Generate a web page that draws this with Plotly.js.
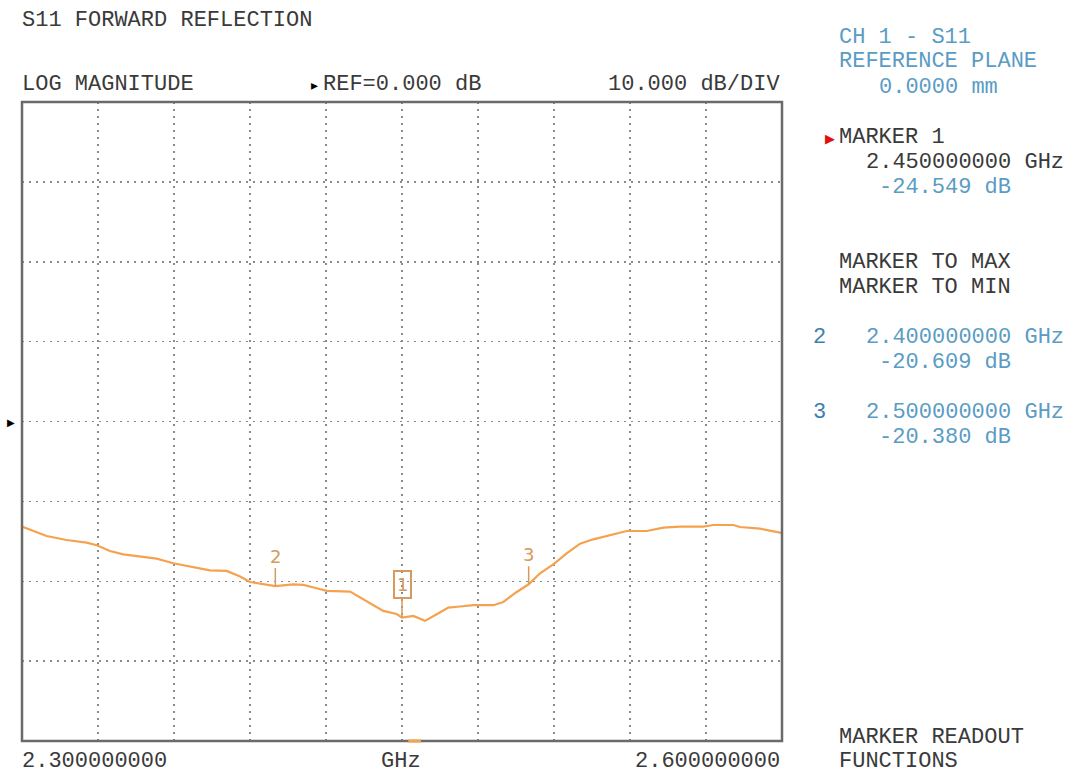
<!DOCTYPE html>
<html>
<head>
<meta charset="utf-8">
<script src="https://cdn.plot.ly/plotly-3.0.1.min.js"></script>
<style>html,body{margin:0;padding:0;background:#fff;}#chart{width:1072px;height:775px;}</style>
</head>
<body>
<div id="chart"></div>
<script>
// ---- data ----
const freqGHz = [2.3000,2.3045,2.3097,2.3176,2.3255,2.3295,2.3347,2.3400,2.3466,2.3532,2.3597,2.3663,2.3742,2.3808,2.3861,2.3900,2.3966,2.4000,2.4071,2.4111,2.4163,2.4203,2.4295,2.4361,2.4426,2.4479,2.4500,2.4545,2.4591,2.4637,2.4683,2.4729,2.4782,2.4861,2.4900,2.4953,2.5000,2.5045,2.5097,2.5150,2.5203,2.5255,2.5321,2.5387,2.5466,2.5532,2.5597,2.5689,2.5729,2.5808,2.5834,2.5913,2.5992,2.6000];
const s11dB   = [-13.16,-13.71,-14.34,-14.84,-15.16,-15.50,-16.21,-16.63,-16.91,-17.16,-17.75,-18.16,-18.63,-18.71,-19.41,-20.09,-20.38,-20.61,-20.38,-20.46,-20.88,-21.21,-21.29,-22.46,-23.71,-24.10,-24.55,-24.34,-24.96,-24.13,-23.29,-23.16,-23.00,-23.00,-22.59,-21.34,-20.38,-19.00,-17.88,-16.50,-15.29,-14.75,-14.25,-13.71,-13.71,-13.29,-13.16,-13.16,-12.96,-12.96,-13.21,-13.41,-13.91,-14.00];
const markerNames = ["1","2","3"];
const markerFreq  = [2.45, 2.40, 2.50];
const markerDb    = [-24.549, -20.609, -20.380];
const startFreqLabel = "2.300000000";
const stopFreqLabel  = "2.600000000";

// ---- layout helpers ----
const L = 22, R = 782, T = 102, B = 741;
const px = x => (x - L) / (R - L);
const py = y => (B - y) / (B - T);
const MONO = "Liberation Mono, DejaVu Sans Mono, monospace";
const DARK = "#3a3a3a", BLUE = "#5a9cc4", BLUE2 = "#3f7fae", ORANGE = "#f5a24f", MK = "#d59a5c";

function txt(text, x, y, color, anchor, size, family) {
  return {text: text, xref: "paper", yref: "paper", x: px(x), y: py(y),
          xanchor: anchor || "left", yanchor: "middle", showarrow: false,
          font: {family: family || MONO, size: size || 22, color: color}};
}

const annotations = [
  txt("S11 FORWARD REFLECTION", 20, 21, DARK),
  txt("LOG MAGNITUDE", 20, 84, DARK),
  txt("▸", 320, 85, "#000", "right", 14, "DejaVu Sans"),
  txt("REF=0.000 dB", 321, 84, DARK),
  txt("10.000 dB/DIV", 782, 84, DARK, "right"),
  txt("▶", 17, 423, "#000", "right", 10, "DejaVu Sans"),
  txt(startFreqLabel, 20, 761, DARK),
  txt("GHz", 401, 761, DARK, "center"),
  txt(stopFreqLabel, 782, 761, DARK, "right"),
  // right panel
  txt("CH 1 - S11", 837, 37, BLUE),
  txt("REFERENCE PLANE", 837, 62, BLUE),
  txt("0.0000 mm", 877, 87, BLUE),
  txt("▶", 837, 138, "#e01010", "right", 13, "DejaVu Sans"),
  txt("MARKER 1", 837, 137, DARK),
  txt(markerFreq[0].toFixed(9) + " GHz", 864, 162, DARK),
  txt(markerDb[0].toFixed(3) + " dB", 877, 187, BLUE),
  txt("MARKER TO MAX", 837, 262, DARK),
  txt("MARKER TO MIN", 837, 287, DARK),
  txt(markerNames[1], 811, 337, BLUE2),
  txt(markerFreq[1].toFixed(9) + " GHz", 864, 337, BLUE),
  txt(markerDb[1].toFixed(3) + " dB", 877, 362, BLUE),
  txt(markerNames[2], 811, 412, BLUE2),
  txt(markerFreq[2].toFixed(9) + " GHz", 864, 412, BLUE),
  txt(markerDb[2].toFixed(3) + " dB", 877, 437, BLUE),
  txt("MARKER READOUT", 837, 737, DARK),
  txt("FUNCTIONS", 837, 761, DARK)
];

// marker flags on the trace
markerNames.forEach((name, i) => {
  const a = {text: name, x: markerFreq[i], y: markerDb[i], xref: "x", yref: "y",
             showarrow: true, arrowhead: 0, arrowwidth: 1.5, arrowcolor: MK,
             ax: 0, ay: i === 0 ? -33 : -30,
             font: {family: "DejaVu Sans", size: 18, color: MK}};
  if (i === 0) { a.bordercolor = MK; a.borderwidth = 2; a.borderpad = 2; a.font.size = 18; }
  annotations.push(a);
});

const trace = {x: freqGHz, y: s11dB, type: "scatter", mode: "lines",
               line: {color: ORANGE, width: 2.2}, hoverinfo: "skip"};

const layout = {
  width: 1072, height: 775,
  margin: {l: L, r: 1072 - R, t: T, b: 775 - B, pad: 0},
  paper_bgcolor: "#fff", plot_bgcolor: "#fff",
  showlegend: false,
  xaxis: {range: [2.3, 2.6], dtick: 0.03, tick0: 2.3, showticklabels: false, ticks: "",
          showgrid: true, gridcolor: "#8a8a8a", gridwidth: 1.5, griddash: "2px,5px",
          zeroline: false, showline: false, fixedrange: true},
  yaxis: {range: [-40, 40], dtick: 10, tick0: -40, showticklabels: false, ticks: "",
          showgrid: true, gridcolor: "#8a8a8a", gridwidth: 1.5, griddash: "2px,5px",
          zeroline: false, showline: false, fixedrange: true},
  shapes: [
    {type: "rect", xref: "paper", yref: "paper", x0: 0, x1: 1, y0: 0, y1: 1,
     line: {color: "#6a6a6a", width: 2.5}, layer: "above"},
    {type: "line", xref: "x", yref: "paper", x0: markerFreq[0] + 0.0025, x1: markerFreq[0] + 0.0075,
     y0: 0, y1: 0, line: {color: ORANGE, width: 3}, layer: "above"}
  ],
  annotations: annotations
};

Plotly.newPlot("chart", [trace], layout, {staticPlot: true, displayModeBar: false});
</script>
</body>
</html>
